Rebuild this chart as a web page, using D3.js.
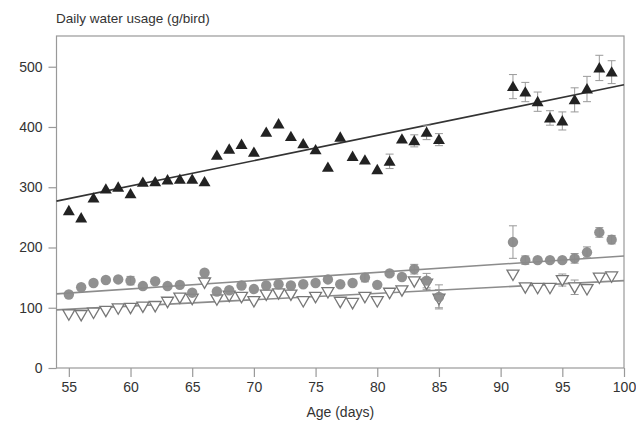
<!DOCTYPE html>
<html>
<head>
<meta charset="utf-8">
<script src="https://cdn.jsdelivr.net/npm/d3@7"></script>
<style>
  body { margin: 0; background: #fff; }
  text { font-family: "Liberation Sans", Arial, sans-serif; fill: #333; }
</style>
</head>
<body>
<div id="area1"></div>
<script>
// Age (days) of each measurement
var days = [55, 56, 57, 58, 59, 60, 61, 62, 63, 64, 65, 66, 67, 68, 69, 70,
  71, 72, 73, 74, 75, 76, 77, 78, 79, 80, 81, 82, 83, 84, 85,
  91, 92, 93, 94, 95, 96, 97, 98, 99];

// filled triangles
var triUp = [261, 249, 282, 297, 300, 289, 308, 309, 312, 313, 313, 309, 353, 363, 371, 358,
  391, 405, 384, 372, 362, 333, 383, 351, 345, 329, 343, 380, 377, 391, 379,
  467, 458, 442, 415, 410, 445, 463, 498, 491];
var triUpErr = [0, 0, 0, 0, 0, 0, 0, 0, 0, 0, 0, 0, 0, 0, 0, 0,
  0, 0, 0, 0, 0, 0, 0, 0, 0, 0, 12, 0, 10, 12, 10,
  20, 16, 16, 12, 15, 20, 21, 21, 19];

// grey circles
var circ = [122, 134, 141, 146, 147, 145, 136, 144, 136, 138, 125, 158, 127, 129, 137, 131,
  137, 139, 137, 139, 141, 147, 139, 141, 150, 138, 157, 151, 164, 145, 118,
  209, 179, 179, 179, 179, 182, 192, 225, 213];
var circErr = [0, 0, 0, 0, 0, 7, 0, 0, 0, 0, 0, 0, 0, 0, 0, 0,
  0, 0, 0, 0, 0, 0, 0, 0, 7, 0, 0, 0, 8, 12, 20,
  27, 7, 0, 0, 0, 8, 9, 8, 7];

// open inverted triangles
var triDown = [89, 88, 92, 95, 99, 100, 102, 103, 110, 117, 115, 142, 114, 120, 118, 111,
  122, 124, 122, 111, 118, 126, 110, 108, 118, 111, 125, 129, 144, 140, 115,
  155, 134, 133, 133, 146, 134, 131, 150, 152];
var triDownErr = [0, 0, 0, 0, 0, 0, 0, 0, 0, 0, 0, 0, 0, 0, 0, 0,
  0, 0, 0, 0, 0, 0, 0, 0, 0, 0, 0, 0, 0, 10, 15,
  0, 0, 0, 0, 10, 12, 0, 0, 0];

// fitted lines, value at left and right end of the x domain
var fitX = [54, 100];
var fitUp = [277, 470];
var fitCirc = [123, 186];
var fitDown = [96.5, 145];

var xTicks = [55, 60, 65, 70, 75, 80, 85, 90, 95, 100];
var yTicks = [0, 100, 200, 300, 400, 500];

var W = 636, H = 426;
var margin = {top: 36, right: 12, bottom: 58, left: 56.5},
  width = W - margin.left - margin.right,
  height = H - margin.top - margin.bottom;

var svg = d3.select("#area1")
  .append("svg")
    .attr("width", W)
    .attr("height", H);

var chart = svg.append("g")
    .attr("transform", "translate(" + margin.left + "," + margin.top + ")");

var x = d3.scaleLinear().domain([54, 100]).range([0, width]);
var y = d3.scaleLinear().domain([0, 551]).range([height, 0]);

// frame
chart.append("rect")
    .attr("width", width)
    .attr("height", height)
    .attr("fill", "none")
    .attr("stroke", "#999")
    .attr("stroke-width", 1.2);

var xAxis = chart.append("g")
    .attr("transform", "translate(0," + height + ")")
    .call(d3.axisBottom(x).tickValues(xTicks).tickSize(9).tickPadding(5));
var yAxis = chart.append("g")
    .call(d3.axisLeft(y).tickValues(yTicks).tickSize(8).tickPadding(6));

[xAxis, yAxis].forEach(function(a) {
  a.select(".domain").remove();
  a.selectAll("line").attr("stroke", "#999").attr("stroke-width", 1.2);
  a.selectAll("text").style("font-size", "14px").attr("fill", "#333");
});

svg.append("text")
    .attr("x", 56)
    .attr("y", 23)
    .style("font-size", "13.5px")
    .text("Daily water usage (g/bird)");

svg.append("text")
    .attr("x", margin.left + x(77))
    .attr("y", 417)
    .attr("text-anchor", "middle")
    .style("font-size", "14px")
    .text("Age (days)");

// regression lines
var fits = [
  {v: fitCirc, color: "#8c8c8c"},
  {v: fitDown, color: "#8c8c8c"},
  {v: fitUp, color: "#333"}
];
chart.selectAll(".fit")
    .data(fits)
  .enter().append("line")
    .attr("class", "fit")
    .attr("x1", x(fitX[0]))
    .attr("x2", x(fitX[1]))
    .attr("y1", function(d) { return y(d.v[0]); })
    .attr("y2", function(d) { return y(d.v[1]); })
    .attr("stroke", function(d) { return d.color; })
    .attr("stroke-width", 1.6);

function errorBars(vals, errs) {
  var pts = days.map(function(d, i) { return {d: d, v: vals[i], e: errs[i]}; })
    .filter(function(p) { return p.e > 0; });
  var g = chart.append("g")
      .attr("stroke", "#999")
      .attr("stroke-width", 1);
  g.selectAll(".eb")
      .data(pts)
    .enter().append("line")
      .attr("x1", function(p) { return x(p.d); })
      .attr("x2", function(p) { return x(p.d); })
      .attr("y1", function(p) { return y(p.v - p.e); })
      .attr("y2", function(p) { return y(p.v + p.e); });
  [-1, 1].forEach(function(s) {
    g.selectAll(".cap" + s)
        .data(pts)
      .enter().append("line")
        .attr("x1", function(p) { return x(p.d) - 4; })
        .attr("x2", function(p) { return x(p.d) + 4; })
        .attr("y1", function(p) { return y(p.v + s * p.e); })
        .attr("y2", function(p) { return y(p.v + s * p.e); });
  });
}

errorBars(triDown, triDownErr);
errorBars(circ, circErr);
errorBars(triUp, triUpErr);

var tri = d3.symbol().type(d3.symbolTriangle).size(62);

// open inverted triangles
chart.append("g").selectAll("path")
    .data(days)
  .enter().append("path")
    .attr("d", tri)
    .attr("transform", function(d, i) {
      return "translate(" + x(d) + "," + (y(triDown[i]) - 1) + ") rotate(180)";
    })
    .attr("fill", "#fff")
    .attr("stroke", "#777")
    .attr("stroke-width", 1.3);

// grey circles
chart.append("g").selectAll("circle")
    .data(days)
  .enter().append("circle")
    .attr("cx", function(d) { return x(d); })
    .attr("cy", function(d, i) { return y(circ[i]); })
    .attr("r", 5.2)
    .attr("fill", "#8a8a8a")
    .attr("fill-opacity", 0.95);

// filled triangles
chart.append("g").selectAll("path")
    .data(days)
  .enter().append("path")
    .attr("d", tri)
    .attr("transform", function(d, i) {
      return "translate(" + x(d) + "," + (y(triUp[i]) + 1) + ")";
    })
    .attr("fill", "#222");
</script>
</body>
</html>
